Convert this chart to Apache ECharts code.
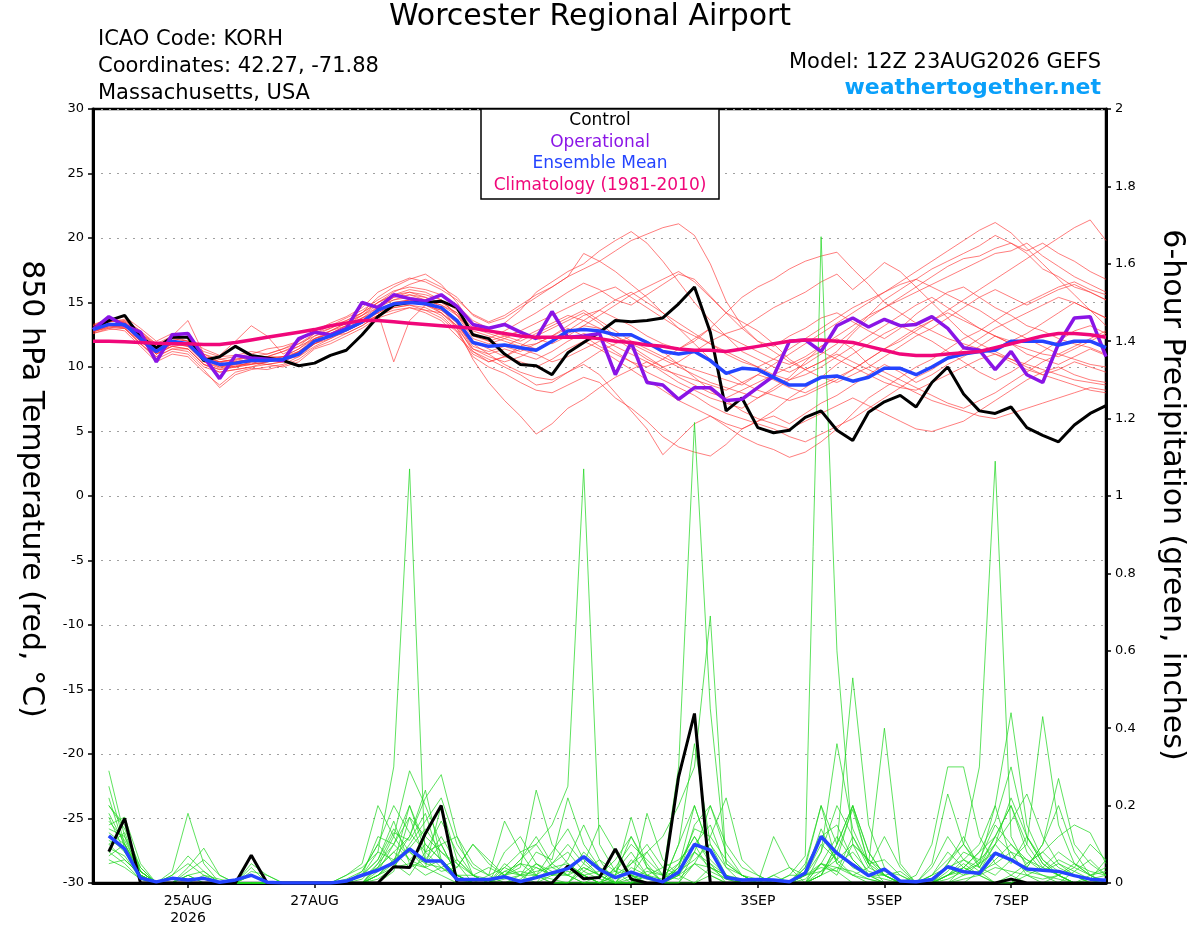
<!DOCTYPE html>
<html>
<head>
<meta charset="utf-8">
<title>Worcester Regional Airport - GEFS</title>
<script src="https://cdn.jsdelivr.net/npm/echarts@6.0.0/dist/echarts.min.js"></script>
<style>
  html, body { margin: 0; padding: 0; background: #fff; }
  #chart { width: 1200px; height: 927px; }
</style>
</head>
<body>
<div id="chart"></div>
<script>
// steps are 6 hours apart, first step = 12Z 23AUG2026
const stepHours = 6;
const tickHours = [36, 84, 132, 204, 252, 300, 348];
const tickLabels = ['25AUG\n2026', '27AUG', '29AUG', '1SEP', '3SEP', '5SEP', '7SEP'];

// 850 hPa temperature (C)
const tempControl = [13.0,13.6,14.0,12.3,11.5,12.3,12.3,10.5,10.8,11.6,
  10.9,10.7,10.5,10.1,10.3,10.9,11.3,12.5,13.9,14.8,
  15.0,15.0,15.1,14.6,12.5,12.2,11.0,10.2,10.1,9.4,
  11.1,11.9,12.7,13.6,13.5,13.6,13.8,14.9,16.2,12.7,
  6.6,7.6,5.3,4.9,5.1,6.1,6.6,5.1,4.3,6.5,
  7.3,7.8,6.9,8.8,10.0,7.9,6.6,6.4,6.9,5.3,
  4.7,4.2,5.5,6.4,7.0];
const tempOper = [12.9,13.9,13.2,12.7,10.4,12.5,12.6,10.8,9.1,10.9,
  10.7,10.6,10.5,12.2,12.7,12.5,13.0,15.0,14.6,15.6,
  15.3,15.1,15.6,14.7,13.3,13.0,13.3,12.7,12.2,14.3,
  12.3,12.4,12.6,9.4,11.9,8.8,8.6,7.5,8.4,8.4,
  7.4,7.5,8.4,9.3,12.0,12.1,11.2,13.2,13.8,13.1,
  13.7,13.2,13.3,13.9,13.0,11.5,11.3,9.8,11.2,9.4,
  8.8,11.8,13.8,13.9,10.8];
const tempMean = [12.9,13.3,13.3,12.2,11.2,12.0,11.8,10.6,10.2,10.3,
  10.5,10.5,10.6,11.0,12.0,12.4,12.9,13.5,14.4,14.9,
  15.0,14.9,14.6,13.6,11.9,11.6,11.7,11.5,11.3,12.0,
  12.8,12.9,12.8,12.5,12.5,11.9,11.2,11.0,11.2,10.5,
  9.5,9.9,9.8,9.2,8.6,8.6,9.2,9.3,8.9,9.2,
  9.9,9.9,9.4,10.0,10.7,11.0,11.2,11.3,12.0,12.0,
  12.0,11.7,12.0,12.0,11.5];
const tempClim = [12.0,12.0,11.95,11.9,11.85,11.8,11.8,11.75,11.75,11.9,
  12.1,12.3,12.5,12.7,12.9,13.2,13.4,13.6,13.6,13.5,
  13.4,13.3,13.2,13.1,13.0,12.8,12.6,12.4,12.3,12.3,
  12.3,12.3,12.2,12.0,11.9,11.7,11.6,11.4,11.3,11.3,
  11.2,11.4,11.6,11.8,12.0,12.1,12.1,12.0,11.9,11.6,
  11.3,11.0,10.9,10.9,11.0,11.1,11.2,11.5,11.8,12.1,
  12.4,12.6,12.6,12.5,12.3];

// ensemble members, temperature
const memT01 = [13.2,13.8,13.5,12.6,11.8,12.4,12.0,11.2,10.8,10.9,11.2,11.0,11.4,12.0,12.8,13.4,13.9,14.6,15.8,16.4,16.9,16.6,16.0,15.2,14.1,13.5,14.0,14.8,15.6,16.2,17.0,17.6,18.2,19.0,19.8,20.3,20.8,21.1,20.2,18.0,15.1,13.2,12.0,11.6,12.4,13.0,13.8,14.2,13.5,12.8,12.2,13.0,14.1,15.0,15.8,16.2,15.4,14.6,14.0,13.2,12.8,12.2,11.8,11.5,11.0];
const memT02 = [12.6,13.0,12.8,11.6,10.4,11.0,10.8,9.6,8.6,9.6,9.9,9.8,10.1,10.6,11.5,12.0,12.6,13.2,14.0,14.6,14.8,14.4,13.8,12.7,10.8,10.0,9.5,8.8,8.2,8.0,8.6,9.2,8.8,7.6,6.8,5.8,4.6,3.8,3.4,3.1,4.0,5.2,5.8,6.2,5.6,6.4,7.2,7.8,8.6,9.4,10.2,9.6,8.8,9.4,10.2,10.8,11.6,12.4,11.8,11.0,10.6,10.2,10.8,11.4,10.9];
const memT03 = [13.0,13.2,13.6,12.8,11.6,12.2,12.4,11.0,10.4,10.0,10.2,10.8,11.2,11.6,12.2,12.6,13.0,13.8,14.2,10.4,13.6,14.8,15.2,14.0,12.6,12.2,12.8,13.5,14.2,15.0,15.8,16.5,16.0,15.2,14.8,15.6,16.4,17.2,16.8,15.5,14.2,13.5,12.8,11.8,10.6,9.8,10.4,11.2,12.6,13.8,14.6,15.4,16.2,17.0,17.8,18.4,18.6,19.2,19.6,18.8,17.6,17.0,16.2,15.8,15.2];
const memT04 = [12.8,13.4,13.0,11.8,10.8,11.4,11.2,10.0,9.6,9.8,10.0,10.4,10.8,11.4,12.4,13.0,13.5,14.0,15.0,15.6,15.8,15.4,14.6,13.0,10.6,8.8,7.4,6.2,4.8,5.6,6.8,7.5,8.4,9.2,9.8,10.4,9.6,8.8,8.2,7.6,7.2,6.8,7.6,8.4,9.2,10.4,11.6,12.2,11.4,10.2,9.6,9.0,8.4,7.8,7.2,6.8,7.4,8.0,8.8,9.6,10.4,11.0,11.6,12.2,12.8];
const memT05 = [13.1,13.6,13.9,13.0,12.0,12.6,12.2,11.4,10.9,12.0,13.2,12.4,11.0,11.6,12.6,13.2,13.8,14.4,15.2,15.9,16.2,16.0,15.6,14.8,13.6,13.0,13.4,14.4,15.8,16.6,17.4,18.0,19.0,19.8,20.5,19.6,18.2,16.6,15.0,13.6,12.4,11.2,10.6,10.0,9.6,10.2,11.0,11.8,12.8,14.0,15.2,16.0,16.8,17.6,18.2,18.8,19.4,20.2,19.6,19.0,19.6,18.8,18.2,17.4,16.8];
const memT06 = [12.7,13.1,13.2,12.0,11.0,11.6,11.4,10.2,9.8,10.0,10.4,10.2,10.0,10.4,11.4,11.8,12.4,13.0,13.8,14.2,14.6,14.2,13.6,12.4,11.2,10.6,10.0,9.4,8.6,8.8,9.6,10.2,9.4,8.0,6.6,5.2,3.2,4.4,5.6,6.2,5.4,4.6,4.0,3.6,3.0,3.4,4.2,5.2,6.4,7.6,8.4,9.2,10.0,10.6,11.4,12.2,12.8,13.6,14.4,15.0,15.6,16.2,16.6,16.0,15.6];
const memT07 = [13.0,13.4,13.2,12.4,11.4,12.2,12.0,10.8,10.4,10.6,10.8,10.6,10.8,11.2,12.2,12.6,13.2,14.0,14.8,15.2,15.4,15.2,14.8,14.0,12.8,12.4,12.0,11.6,11.8,12.4,13.2,14.0,14.4,13.8,13.2,12.4,11.8,11.4,12.0,13.0,14.2,15.4,16.2,16.8,17.6,18.2,18.6,18.9,17.6,16.4,15.0,14.2,13.4,12.8,12.2,11.8,11.4,11.0,10.6,10.2,9.8,9.4,9.0,8.8,8.6];
const memT08 = [12.9,13.2,13.4,12.2,11.2,11.8,11.8,10.6,10.0,10.2,10.6,10.8,10.6,10.8,11.8,12.2,12.8,13.4,14.2,14.8,15.2,15.0,14.6,13.4,11.6,11.2,11.6,12.2,12.8,13.4,14.0,13.6,13.0,12.2,11.4,10.6,10.0,10.4,11.2,12.0,12.6,13.0,13.8,14.6,15.2,15.8,16.6,17.2,16.0,17.0,18.1,17.4,16.2,15.0,13.8,12.6,11.8,11.2,10.6,10.0,9.4,9.0,8.6,8.2,8.0];
const memT09 = [13.3,13.7,13.4,12.6,11.6,12.4,13.6,11.0,10.6,10.8,11.0,11.4,11.6,12.0,12.8,13.2,13.6,14.2,15.4,16.2,16.8,17.2,16.4,15.0,13.2,12.8,12.4,12.0,12.6,13.2,13.8,14.4,13.6,12.8,12.0,11.4,10.8,10.2,9.8,9.4,9.0,8.6,9.4,10.2,11.0,11.8,12.6,13.4,14.2,15.0,15.8,16.6,17.4,18.2,19.0,19.8,20.6,21.2,20.4,19.2,18.0,16.8,15.6,14.4,13.2];
const memT10 = [12.8,13.0,13.3,12.0,11.0,11.8,11.6,10.4,10.0,10.2,10.2,10.4,10.6,11.2,12.0,12.8,13.2,13.8,14.4,15.0,15.2,15.0,14.2,13.0,11.4,11.0,11.4,11.0,10.6,11.2,12.0,12.6,12.2,11.6,11.0,10.4,9.8,9.4,9.0,8.6,8.2,8.8,9.4,9.0,8.4,8.0,8.6,9.2,9.8,10.6,11.4,12.0,12.8,13.6,14.4,15.2,16.0,16.8,17.6,18.4,19.2,20.0,20.8,21.4,19.8];
const memT11 = [12.6,12.9,13.0,11.8,10.6,11.2,11.0,9.8,8.4,9.4,9.8,10.0,10.2,10.8,11.6,12.2,12.8,13.4,14.0,14.4,14.6,14.4,14.2,13.2,11.8,11.0,10.2,9.6,9.2,9.0,9.6,10.4,11.2,11.8,12.4,12.0,11.2,10.2,9.2,8.2,7.4,6.6,6.0,5.6,5.2,5.8,6.4,7.0,7.6,7.0,6.4,5.8,5.2,5.0,5.4,5.8,6.6,7.4,8.2,9.0,9.6,10.0,9.4,9.0,8.8];
const memT12 = [13.0,13.5,13.7,12.8,11.8,12.0,11.6,10.6,10.4,10.5,10.8,10.6,10.4,11.0,12.2,12.8,13.4,14.0,14.6,15.4,15.6,15.2,14.8,14.2,12.4,12.0,12.4,12.8,12.2,11.8,12.4,13.2,14.0,14.8,15.6,16.2,16.8,17.4,16.6,15.4,14.2,13.0,12.0,11.2,10.4,9.8,9.2,8.8,9.4,10.0,10.8,11.6,12.4,13.0,13.8,14.6,15.4,16.0,15.4,14.8,15.4,16.0,16.4,15.8,15.2];
const memT13 = [12.7,13.2,13.0,12.0,11.2,11.6,11.8,10.8,10.2,10.0,10.4,10.6,10.8,11.0,11.8,12.4,12.6,13.2,14.0,14.8,15.0,14.8,14.4,13.6,12.0,11.4,10.8,10.4,10.0,10.6,11.4,12.0,11.4,10.6,9.8,9.0,8.2,7.4,6.8,6.2,5.6,5.2,5.8,6.6,7.6,8.4,9.2,10.2,11.0,11.8,12.6,13.2,12.6,12.0,11.2,10.4,9.6,9.0,9.6,10.4,11.2,12.0,12.8,13.2,12.6];
const memT14 = [13.2,13.6,13.4,12.4,11.4,12.2,12.0,10.8,10.2,10.4,10.6,10.8,11.2,11.8,12.4,12.8,13.4,14.2,15.0,15.6,16.0,15.8,15.2,14.4,13.0,12.6,12.2,11.8,11.4,12.0,12.8,13.6,14.4,15.2,15.8,15.0,14.2,13.4,12.6,11.8,11.0,10.4,10.0,10.6,11.4,12.2,13.0,13.8,14.6,15.2,15.8,16.4,16.8,16.2,15.6,15.0,14.4,13.6,12.8,12.2,11.6,11.0,10.6,10.2,10.0];
const memT15 = [12.9,13.3,13.1,12.2,11.0,11.8,11.6,10.4,9.9,10.1,10.3,10.2,10.4,11.0,11.8,12.4,13.0,13.6,14.4,15.0,15.2,14.8,14.2,13.2,11.2,10.4,10.8,11.4,11.0,10.4,10.8,11.4,12.0,11.2,10.4,9.6,9.0,8.4,7.8,7.0,6.4,6.0,5.6,5.2,4.6,4.2,4.8,5.4,6.0,6.8,7.6,8.4,9.2,9.8,10.6,11.4,12.2,13.0,13.6,14.2,14.8,15.4,15.0,14.4,13.8];
const memT16 = [13.1,13.5,13.6,12.6,11.6,12.0,11.8,10.6,10.4,10.6,10.8,11.0,11.4,11.8,12.6,13.0,13.6,14.2,15.0,15.8,16.4,16.8,16.2,15.4,14.0,13.4,13.8,14.6,15.4,16.2,17.0,18.8,18.2,17.4,16.4,15.4,14.2,13.0,11.8,10.6,9.6,8.8,8.2,7.8,7.4,7.8,8.4,9.0,9.8,10.6,11.4,12.2,13.0,13.6,14.2,13.6,13.0,12.4,11.8,11.4,11.0,10.8,11.4,12.0,12.6];
const memT17 = [12.8,13.1,13.0,11.8,10.8,11.4,11.4,10.2,9.8,10.0,10.2,10.4,10.6,11.0,11.8,12.4,13.0,13.6,14.2,14.8,15.0,14.8,14.4,13.4,11.4,10.8,10.4,10.8,11.4,12.0,12.6,13.2,13.0,12.4,11.8,11.2,10.6,10.0,9.4,8.8,8.4,8.0,7.6,8.2,9.0,9.8,10.4,11.0,10.4,9.8,9.2,8.6,8.0,7.4,7.0,6.6,6.2,6.0,6.4,6.8,7.2,7.6,8.0,8.4,8.2];
const memT18 = [13.0,13.3,13.5,12.4,11.4,12.0,11.8,10.6,10.2,10.4,10.6,10.8,10.8,11.4,12.2,12.6,13.2,13.8,14.6,15.2,15.6,15.4,15.0,14.2,12.6,12.0,11.6,11.2,11.8,12.4,13.0,12.4,11.6,11.0,10.4,10.0,10.6,11.4,12.2,13.0,12.4,11.8,11.2,10.6,10.2,10.8,11.6,12.4,13.2,14.0,14.6,15.2,15.8,16.4,17.0,17.6,18.2,18.8,19.0,19.6,18.6,17.8,17.0,16.4,15.8];
const memT19 = [12.9,13.4,13.2,12.0,11.0,11.6,11.4,10.2,9.6,9.8,10.0,10.2,10.4,11.2,12.0,12.4,12.8,13.4,14.0,14.6,14.8,14.6,14.0,12.8,11.0,10.4,10.8,11.6,12.4,13.0,13.6,14.2,13.4,12.4,11.6,10.8,10.0,9.2,8.6,8.0,7.6,8.2,8.8,9.4,10.0,10.6,11.2,10.6,10.0,9.4,8.8,8.4,8.2,8.8,9.4,10.0,10.6,11.0,10.4,9.8,9.4,9.8,10.4,10.0,9.6];
const memT20 = [13.1,13.6,13.4,12.4,11.2,12.0,11.8,10.8,10.6,10.4,10.6,10.4,10.6,11.2,12.0,12.4,12.8,13.4,14.6,15.4,15.8,15.6,15.2,14.0,12.2,11.8,12.2,12.8,13.4,14.0,14.6,15.2,15.8,16.2,15.4,14.6,13.8,13.0,12.4,11.8,11.2,10.6,10.0,9.4,9.0,9.4,10.0,10.8,11.6,12.4,13.2,14.0,14.8,15.4,14.6,13.8,13.0,12.4,12.0,12.6,13.4,14.2,15.0,14.4,13.8];

// 6-hour precipitation (inches); first step has no accumulation
const precipControl = [null,0.081,0.167,0,0,0,0,0,0,0,
  0.072,0,0,0,0,0,0,0,0,0.042,
  0.040,0.128,0.2,0,0,0,0,0,0,0,
  0.044,0.011,0.014,0.088,0.01,0,0,0.275,0.438,0,
  0,0,0,0,0,0,0,0,0,0,
  0,0,0,0,0,0,0,0,0.01,0,
  0,0,0,0,0];
const precipMean = [null,0.122,0.088,0.013,0.003,0.012,0.008,0.012,0.002,0.008,
  0.02,0.002,0,0,0,0,0.005,0.02,0.033,0.052,
  0.088,0.057,0.057,0.009,0.009,0.009,0.016,0.004,0.014,0.026,
  0.037,0.068,0.035,0.014,0.028,0.014,0.003,0.028,0.1,0.085,
  0.014,0.008,0.009,0.008,0.003,0.026,0.12,0.077,0.047,0.019,
  0.036,0.005,0.003,0.009,0.042,0.029,0.025,0.077,0.06,0.036,
  0.033,0.03,0.019,0.01,0.007];

// ensemble members, precipitation
const memP01 = [null,0.29,0.12,0.02,0,0,0,0,0,0,0,0,0,0,0,0,0,0.02,0.08,0.3,1.07,0.05,0.1,0.02,0,0,0.03,0.05,0.02,0,0,0.04,0.02,0,0.06,0.02,0,0.1,0.2,0.08,0.02,0,0,0,0,0.04,0.12,0.06,0.02,0,0,0,0,0,0.05,0.12,0.04,0.02,0.06,0.1,0.04,0.02,0,0,0];
const memP02 = [null,0.25,0.1,0.03,0,0,0,0,0,0,0,0,0,0,0,0,0,0,0.05,0.1,0.17,0.12,0.08,0.05,0.02,0,0.04,0.08,0.1,0.15,0.25,1.07,0.1,0.03,0,0,0,0.02,0.05,0.02,0,0,0,0,0,0,0.02,0.08,0.19,0.05,0,0,0,0,0,0,0.03,0.1,0.22,0.12,0.05,0.02,0,0,0];
const memP03 = [null,0.2,0.14,0.04,0,0.02,0.05,0.02,0,0,0.02,0,0,0,0,0,0,0,0.04,0.12,0.29,0.2,0.1,0.02,0,0,0,0,0.05,0.02,0.02,0,0,0.04,0.1,0.06,0.02,0.3,1.19,0.45,0.05,0.02,0,0,0,0.02,0.05,0.03,0,0,0,0,0,0,0,0.04,0.08,0.16,0.3,0.12,0.05,0.02,0.04,0.1,0.06];
const memP04 = [null,0.15,0.17,0.05,0,0,0,0,0,0,0,0,0,0,0,0,0,0,0.02,0.06,0.12,0.22,0.28,0.12,0.02,0,0.02,0.04,0.24,0.1,0.05,0.02,0,0,0.02,0.08,0.12,0.2,0.3,0.69,0.05,0.02,0,0,0,0,0.08,0.2,0.12,0.04,0.02,0,0,0.02,0.08,0.04,0.02,0,0,0.04,0.1,0.2,0.08,0.02,0];
const memP05 = [null,0.12,0.08,0.02,0,0.03,0.18,0.05,0,0,0,0,0,0,0,0,0,0.02,0.06,0.14,0.08,0.04,0.02,0,0,0,0,0,0,0,0,0.05,0.15,0.08,0.02,0,0,0,0,0.04,0.02,0,0,0,0.02,0.07,1.67,0.6,0.1,0.02,0,0,0,0,0,0.02,0.05,0.12,0.08,0.02,0,0,0,0.02,0.04];
const memP06 = [null,0.1,0.06,0.02,0,0,0.04,0.09,0.02,0,0.04,0,0,0,0,0,0.02,0.05,0.2,0.12,0.06,0.1,0.06,0.02,0,0.02,0.16,0.08,0.02,0,0,0,0,0.02,0.17,0.04,0,0,0.05,0.12,0.22,0.06,0.02,0,0,0.04,0.2,0.1,0.53,0.15,0.04,0,0,0,0.02,0.04,0.02,0,0.02,0.05,0.08,0.04,0.02,0,0];
const memP07 = [null,0.18,0.1,0.03,0,0,0.02,0,0,0,0,0,0,0,0,0,0,0,0.02,0.04,0.1,0.16,0.22,0.1,0.04,0.02,0,0.02,0.08,0.06,0.22,0.1,0.04,0,0,0.18,0.06,0.02,0,0.02,0,0,0,0.12,0.04,0,0.02,0.1,0.2,0.05,0.4,0.05,0,0,0.02,0.06,0.03,0,0,0.02,0.04,0.02,0,0,0];
const memP08 = [null,0.08,0.05,0.01,0,0,0,0,0,0,0,0,0,0,0,0,0,0,0,0.03,0.17,0.06,0.12,0.05,0,0,0,0,0,0.02,0.04,0.02,0,0,0.04,0.02,0,0.05,0.12,0.06,0.02,0,0,0,0,0.02,0.08,0.36,0.14,0.05,0.02,0,0,0.02,0.06,0.1,0.3,1.09,0.12,0.04,0.02,0,0.03,0.06,0.02];
const memP09 = [null,0.22,0.09,0.02,0,0,0,0,0,0,0.03,0.02,0,0,0,0,0,0.03,0.1,0.2,0.13,0.08,0.1,0.12,0.05,0.02,0.04,0.02,0,0,0,0,0.02,0.06,0.12,0.05,0,0,0.08,0.2,0.08,0.02,0,0,0,0,0.05,0.12,0.06,0.02,0,0,0,0.04,0.12,0.06,0.1,0.2,0.44,0.15,0.06,0.02,0,0,0];
const memP10 = [null,0.16,0.11,0.03,0,0.02,0.07,0.03,0,0,0,0,0,0,0,0,0,0.02,0.12,0.1,0.06,0.04,0.2,0.06,0.02,0,0.02,0.06,0.12,0.05,0.02,0,0,0.02,0.05,0.1,0.04,0.02,0.1,0.15,0.04,0,0,0,0.02,0.02,0.1,0.06,0.2,0.08,0.02,0,0,0,0.02,0.04,0.08,0.12,0.2,0.1,0.43,0.15,0.05,0.02,0];
const memP11 = [null,0.13,0.1,0.02,0,0,0.02,0,0,0,0,0,0,0,0,0,0.02,0.04,0.08,0.06,0.09,0.14,0.08,0.04,0.1,0.06,0.02,0.05,0.04,0.02,0.06,0.15,0.06,0,0,0,0,0.04,0.08,0.05,0.02,0,0,0.02,0,0,0.05,0.02,0.1,0.06,0.02,0,0.02,0.1,0.3,0.3,0.12,0.05,0.02,0,0,0.02,0.05,0.02,0];
const memP12 = [null,0.11,0.09,0.02,0,0,0,0,0,0,0,0,0,0,0,0,0,0,0.03,0.1,0.2,0.1,0.06,0.02,0,0,0.08,0.12,0.05,0.02,0.04,0.02,0,0.04,0.02,0,0,0.1,0.36,0.1,0.02,0,0,0,0,0.05,0.2,0.05,0.02,0.04,0.12,0.04,0,0,0.05,0.1,0.05,0.2,0.06,0.04,0.1,0.27,0.1,0.05,0.02];
const memP13 = [null,0.09,0.07,0.01,0,0,0,0,0,0,0.05,0.02,0,0,0,0,0,0,0.04,0.08,0.12,0.24,0.06,0.02,0,0,0,0,0.02,0.05,0.1,0.05,0.02,0,0,0.02,0,0.04,0.2,0.08,0.02,0,0,0,0,0,0.02,0.1,0.2,0.08,0.02,0,0,0.05,0.23,0.1,0.04,0.1,0.16,0.23,0.12,0.05,0.02,0,0];
const memP14 = [null,0.14,0.12,0.04,0,0,0,0,0,0,0,0,0,0,0,0,0,0.02,0.06,0.16,0.05,0.02,0.04,0.06,0.02,0.04,0.02,0.03,0.02,0.08,0.14,0.06,0.02,0,0,0.04,0.02,0.05,0.12,0.05,0,0,0,0,0,0.02,0.04,0.03,0.12,0.05,0.06,0.02,0,0,0.02,0.05,0.02,0.06,0.1,0.05,0.08,0.12,0.15,0.13,0.05];
const memP15 = [null,0.1,0.13,0.03,0,0,0.03,0.06,0.02,0,0,0,0,0,0,0,0,0,0.02,0.05,0.2,0.08,0.04,0.02,0.02,0,0.03,0.02,0.05,0.03,0.02,0.08,0.04,0.02,0.12,0.04,0,0.02,0.15,0.2,0.1,0.04,0.02,0,0,0.03,0.12,0.15,0.06,0.02,0.02,0,0,0.02,0.04,0.06,0.04,0.12,0.2,0.08,0.03,0.06,0.04,0.02,0.03];
const memP16 = [null,0.17,0.08,0.02,0,0,0,0.02,0.01,0,0.02,0,0,0,0,0,0,0.01,0.05,0.13,0.11,0.18,0.05,0.02,0,0,0.05,0.02,0.03,0.04,0.05,0.02,0.03,0,0.05,0.08,0.02,0.03,0.06,0.1,0.04,0.02,0,0,0,0.02,0.14,0.05,0.08,0.03,0.02,0.03,0,0,0.02,0.03,0.06,0.1,0.05,0.12,0.06,0.03,0.02,0,0.01];
const memP17 = [null,0.06,0.04,0.01,0,0,0,0,0,0,0,0,0,0,0,0,0.01,0.03,0.1,0.05,0.02,0.08,0.16,0.08,0.02,0.01,0.02,0.06,0.1,0.04,0.02,0.04,0.02,0.03,0.08,0.02,0.01,0.04,0.14,0.12,0.06,0.02,0.01,0,0,0,0.03,0.06,0.1,0.06,0.03,0.02,0,0,0.03,0.08,0.06,0.15,0.1,0.06,0.04,0.08,0.05,0.03,0.02];
const memP18 = [null,0.2,0.15,0.03,0,0,0.02,0.03,0,0,0,0,0,0,0,0,0,0,0.01,0.04,0.05,0.04,0.06,0.02,0,0,0.01,0.02,0.02,0.01,0,0.03,0.06,0.03,0.02,0.01,0,0.02,0.08,0.04,0.02,0.01,0,0,0,0.01,0.05,0.04,0.03,0.01,0,0,0,0,0.01,0.03,0.05,0.08,0.06,0.03,0.02,0.01,0,0.01,0.02];
const memP19 = [null,0.07,0.1,0.02,0,0,0,0,0,0,0,0,0,0,0,0,0,0.02,0.04,0.08,0.04,0.06,0.03,0.04,0.1,0.05,0.02,0,0,0.05,0.08,0.03,0.01,0,0,0.02,0.04,0.06,0.1,0.03,0.01,0,0,0.02,0.04,0.02,0.03,0.08,0.04,0.02,0.01,0,0,0,0.04,0.02,0.03,0.05,0.08,0.06,0.03,0.05,0.03,0.01,0.06];
const memP20 = [null,0.05,0.06,0.02,0,0,0,0,0,0,0,0,0,0,0,0,0,0,0.02,0.06,0.08,0.05,0.04,0.01,0,0,0,0.01,0.04,0.02,0.03,0.02,0,0,0.01,0.03,0.02,0.01,0.05,0.04,0.01,0,0,0,0,0,0.02,0.04,0.02,0.01,0,0,0,0,0,0.01,0.02,0.04,0.03,0.02,0.01,0.02,0,0,0.01];

const tempMembers = [memT01, memT02, memT03, memT04, memT05, memT06, memT07, memT08, memT09, memT10,
  memT11, memT12, memT13, memT14, memT15, memT16, memT17, memT18, memT19, memT20];
const precipMembers = [memP01, memP02, memP03, memP04, memP05, memP06, memP07, memP08, memP09, memP10,
  memP11, memP12, memP13, memP14, memP15, memP16, memP17, memP18, memP19, memP20];

const FONT = '"DejaVu Sans", sans-serif';
const PURPLE = '#8a14e6';
const BLUE = '#2444ff';
const PINK = '#f0077a';

function toPoints(vals) {
  return vals.map((v, i) => [i * stepHours, v]);
}

function lineSeries(vals, axis, color, width, z) {
  return {
    type: 'line',
    yAxisIndex: axis,
    data: toPoints(vals),
    symbol: 'none',
    silent: true,
    z: z,
    lineStyle: { color: color, width: width }
  };
}

const series = [];
tempMembers.forEach(m => series.push(lineSeries(m, 0, 'rgba(255,50,50,0.8)', 0.8, 2)));
precipMembers.forEach(m => series.push(lineSeries(m, 1, 'rgba(30,215,30,0.9)', 0.8, 3)));
series.push(lineSeries(tempControl, 0, '#000', 3, 5));
series.push(lineSeries(precipControl, 1, '#000', 3, 5));
series.push(lineSeries(tempOper, 0, PURPLE, 3.5, 6));
series.push(lineSeries(tempMean, 0, BLUE, 3.5, 7));
series.push(lineSeries(precipMean, 1, BLUE, 3.5, 7));
series.push(lineSeries(tempClim, 0, PINK, 3.5, 8));

function txt(x, y, s, size, color, align, extra) {
  return Object.assign({
    type: 'text', x: x, y: y, z: 100,
    style: {
      text: s, fill: color, fontSize: size, fontFamily: FONT,
      align: align, verticalAlign: 'middle'
    }
  }, extra || {});
}

const axisTickStyle = { show: true, inside: false, length: 5, lineStyle: { color: '#000', width: 1.5 } };

const option = {
  animation: false,
  backgroundColor: '#fff',
  grid: { left: 93, right: 94, top: 109, bottom: 44, show: true, borderColor: '#000', borderWidth: 2.5 },
  xAxis: {
    type: 'value', min: 0, max: 384,
    axisLine: { onZero: false, lineStyle: { color: '#000', width: 3 } },
    axisTick: Object.assign({ customValues: tickHours }, axisTickStyle),
    axisLabel: {
      customValues: tickHours,
      formatter: v => tickLabels[tickHours.indexOf(v)] || '',
      color: '#000', fontSize: 14, fontFamily: FONT, margin: 10, lineHeight: 17
    },
    splitLine: { show: false }
  },
  yAxis: [{
    type: 'value', min: -30, max: 30, interval: 5, position: 'left',
    axisLine: { show: true, onZero: false, lineStyle: { color: '#000', width: 3 } },
    axisTick: axisTickStyle,
    axisLabel: { color: '#000', fontSize: 13, fontFamily: FONT, margin: 9 },
    splitLine: { show: true, lineStyle: { color: '#a0a0a0', width: 1.2, type: [2, 6] } }
  }, {
    type: 'value', min: 0, max: 2, interval: 0.2, position: 'right',
    axisLine: { show: true, onZero: false, lineStyle: { color: '#000', width: 3 } },
    axisTick: axisTickStyle,
    axisLabel: { color: '#000', fontSize: 13, fontFamily: FONT, margin: 9,
      formatter: v => String(+v.toFixed(1)) },
    splitLine: { show: false }
  }],
  graphic: [
    txt(590, 17, 'Worcester Regional Airport', 30, '#000', 'center'),
    txt(98, 40, 'ICAO Code: KORH', 21, '#000', 'left'),
    txt(98, 67, 'Coordinates: 42.27, -71.88', 21, '#000', 'left'),
    txt(98, 94, 'Massachusetts, USA', 21, '#000', 'left'),
    txt(1101, 63, 'Model: 12Z 23AUG2026 GEFS', 21, '#000', 'right'),
    {
      type: 'text', x: 1101, y: 88, z: 100,
      style: { text: 'weathertogether.net', fill: '#0aa0fa', fontSize: 22, fontWeight: 'bold',
        fontFamily: FONT, align: 'right', verticalAlign: 'middle' }
    },
    {
      type: 'rect', z: 99,
      shape: { x: 481, y: 109, width: 238, height: 90 },
      style: { fill: '#fff', stroke: '#000', lineWidth: 1.5 }
    },
    txt(600, 121, 'Control', 17, '#000', 'center'),
    txt(600, 142.5, 'Operational', 17, PURPLE, 'center'),
    txt(600, 164, 'Ensemble Mean', 17, BLUE, 'center'),
    txt(600, 186, 'Climatology (1981-2010)', 17, PINK, 'center'),
    txt(31, 489, '850 hPa Temperature (red, °C)', 30, '#000', 'center', { rotation: -Math.PI / 2 }),
    txt(1172, 495, '6-hour Precipitation (green, inches)', 30, '#000', 'center', { rotation: -Math.PI / 2 })
  ],
  series: series
};

const chart = echarts.init(document.getElementById('chart'), null, { renderer: 'canvas' });
chart.setOption(option);
</script>
</body>
</html>
